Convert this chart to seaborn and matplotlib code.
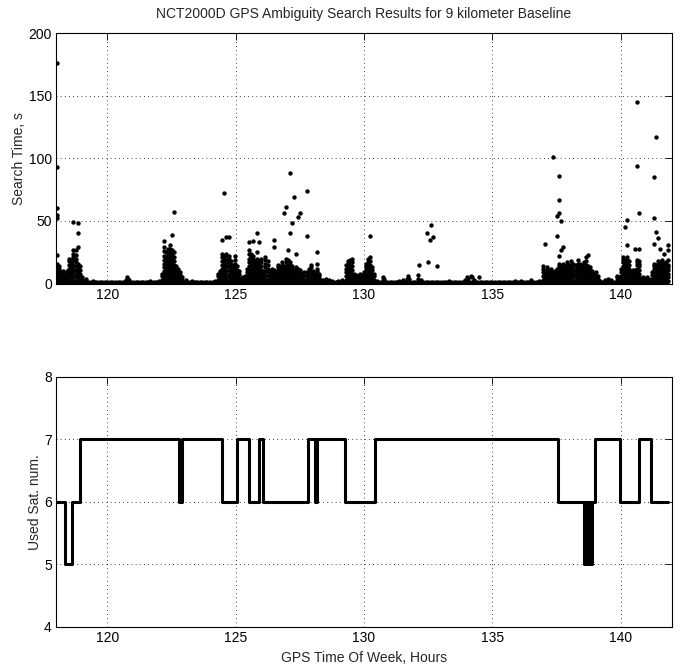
import pandas as pd
import matplotlib
matplotlib.use('Agg')
import matplotlib.pyplot as plt
import seaborn as sns

# --- Data ---
TITLE = 'NCT2000D GPS Ambiguity Search Results for 9 kilometer Baseline'

# quiet floor of the search time (about 1 s) sampled every 0.1 h
floor_level = 1.0
floor_t = [
    118.0, 118.1, 118.2, 118.3, 118.4, 118.5, 118.6, 118.7, 118.8, 118.9,
    119.0, 119.1, 119.2, 119.3, 119.4, 119.5, 119.6, 119.7, 119.8, 119.9,
    120.0, 120.1, 120.2, 120.3, 120.4, 120.5, 120.6, 120.7, 120.8, 120.9,
    121.0, 121.1, 121.2, 121.3, 121.4, 121.5, 121.6, 121.7, 121.8, 121.9,
    122.0, 122.1, 122.2, 122.3, 122.4, 122.5, 122.6, 122.7, 122.8, 122.9,
    123.0, 123.1, 123.2, 123.3, 123.4, 123.5, 123.6, 123.7, 123.8, 123.9,
    124.0, 124.1, 124.2, 124.3, 124.4, 124.5, 124.6, 124.7, 124.8, 124.9,
    125.0, 125.1, 125.2, 125.3, 125.4, 125.5, 125.6, 125.7, 125.8, 125.9,
    126.0, 126.1, 126.2, 126.3, 126.4, 126.5, 126.6, 126.7, 126.8, 126.9,
    127.0, 127.1, 127.2, 127.3, 127.4, 127.5, 127.6, 127.7, 127.8, 127.9,
    128.0, 128.1, 128.2, 128.3, 128.4, 128.5, 128.6, 128.7, 128.8, 128.9,
    129.0, 129.1, 129.2, 129.3, 129.4, 129.5, 129.6, 129.7, 129.8, 129.9,
    130.0, 130.1, 130.2, 130.3, 130.4, 130.5, 130.6, 130.7, 130.8, 130.9,
    131.0, 131.1, 131.2, 131.3, 131.4, 131.5, 131.6, 131.7, 131.8, 131.9,
    132.0, 132.1, 132.2, 132.3, 132.4, 132.5, 132.6, 132.7, 132.8, 132.9,
    133.0, 133.1, 133.2, 133.3, 133.4, 133.5, 133.6, 133.7, 133.8, 133.9,
    134.0, 134.1, 134.2, 134.3, 134.4, 134.5, 134.6, 134.7, 134.8, 134.9,
    135.0, 135.1, 135.2, 135.3, 135.4, 135.5, 135.6, 135.7, 135.8, 135.9,
    136.0, 136.1, 136.2, 136.3, 136.4, 136.5, 136.6, 136.7, 136.8, 136.9,
    137.0, 137.1, 137.2, 137.3, 137.4, 137.5, 137.6, 137.7, 137.8, 137.9,
    138.0, 138.1, 138.2, 138.3, 138.4, 138.5, 138.6, 138.7, 138.8, 138.9,
    139.0, 139.1, 139.2, 139.3, 139.4, 139.5, 139.6, 139.7, 139.8, 139.9,
    140.0, 140.1, 140.2, 140.3, 140.4, 140.5, 140.6, 140.7, 140.8, 140.9,
    141.0, 141.1, 141.2, 141.3, 141.4, 141.5, 141.6, 141.7, 141.8,
]

# bursts: column times (h) and the search times (s) seen in each column
burst_a_t = [118.04, 118.12, 118.20, 118.28, 118.36, 118.44, 118.52,
             118.60, 118.68, 118.76, 118.84, 118.92, 119.00]
burst_a_s = [[1, 3, 6, 9, 12, 14, 16, 23, 52, 55, 60, 93, 176],
             [2, 4, 7, 10, 12, 14], [1, 3, 6, 9], [2, 5, 8, 10], [1, 3, 6, 8],
             [2, 4, 7, 10], [1, 3, 6, 9, 12, 15, 18, 20],
             [2, 5, 8, 11, 13, 16, 19],
             [1, 3, 6, 9, 12, 15, 18, 21, 24, 27, 49],
             [2, 5, 8, 11, 14, 17, 20, 23, 27],
             [1, 3, 6, 9, 12, 14, 16, 29, 40, 48],
             [2, 5, 8, 11, 14], [1, 3, 5]]

burst_b_t = [122.12, 122.20, 122.28, 122.36, 122.44, 122.52, 122.60,
             122.68, 122.76, 122.84, 122.92]
burst_b_s = [[1, 3, 6, 8], [2, 4, 7, 10, 13, 16, 19, 22, 26, 29, 34],
             [1, 3, 6, 9, 12, 15, 18, 21, 25],
             [2, 5, 8, 11, 14, 17, 20, 24, 28],
             [1, 4, 7, 10, 13, 16, 19, 22, 25, 28, 31],
             [2, 5, 8, 11, 14, 17, 20, 23, 27, 39],
             [1, 3, 6, 9, 12, 15, 18, 21, 25, 57],
             [2, 5, 8, 11, 14], [1, 3, 6, 9, 12], [2, 4, 7, 9], [1, 3, 5]]

burst_c_t = [124.32, 124.40, 124.48, 124.56, 124.64, 124.72, 124.80,
             124.88, 124.96, 125.04, 125.12, 125.20]
burst_c_s = [[1, 3, 6, 8], [2, 4, 7, 10],
             [1, 3, 6, 9, 12, 15, 18, 21, 24, 35],
             [2, 5, 8, 11, 14, 17, 20, 22, 72],
             [1, 4, 7, 10, 13, 16, 19, 22, 24, 37],
             [2, 5, 8, 11, 14, 17, 20, 22, 37],
             [1, 3, 6, 9, 12, 15, 18], [2, 5, 8, 11, 13, 15],
             [1, 4, 7, 10, 13, 16, 19, 22], [2, 5, 8, 11, 14],
             [1, 3, 6, 8, 10], [2, 4]]

burst_d_t = [125.28, 125.36, 125.44, 125.52, 125.60, 125.68, 125.76, 125.84,
             125.92, 126.00, 126.08, 126.16, 126.24, 126.32, 126.40, 126.48,
             126.56, 126.64, 126.72, 126.80, 126.88, 126.96, 127.04, 127.12,
             127.20, 127.28, 127.36, 127.44, 127.52, 127.60, 127.68, 127.76,
             127.84, 127.92, 128.00, 128.08, 128.16, 128.24, 128.32]
burst_d_s = [[1, 3, 5], [2, 4, 6], [1, 3, 6, 9, 12],
             [2, 5, 8, 11, 14, 17, 20, 24, 27, 33],
             [1, 3, 6, 9, 12, 15, 18, 21, 24],
             [2, 5, 8, 11, 14, 17, 20, 22, 34],
             [1, 4, 7, 10, 13, 16, 18],
             [2, 5, 8, 11, 14, 17, 20, 25, 40],
             [1, 3, 6, 9, 12, 15, 18, 33],
             [2, 5, 8, 11, 14, 17, 20], [1, 3, 6, 8, 10],
             [2, 4, 7, 10, 13, 16, 19, 21], [1, 3, 6, 9, 12, 15, 18],
             [2, 5, 8, 10], [1, 3, 6, 9, 12], [2, 4, 7, 9, 11, 29, 35],
             [1, 3, 6, 9], [2, 5, 8, 11, 13, 15], [1, 3, 6, 9, 11, 13],
             [2, 4, 7, 10, 13, 15, 17], [1, 3, 6, 9, 12, 14, 56],
             [2, 5, 8, 11, 14, 17, 20, 61], [1, 3, 6, 9, 12, 15, 19, 27],
             [2, 4, 7, 10, 13, 15, 17, 40, 88], [1, 3, 6, 9, 12, 14, 48],
             [2, 5, 8, 11, 69], [1, 3, 6, 9, 11, 13, 24],
             [2, 4, 7, 10, 12, 53], [1, 3, 6, 9, 11, 56], [2, 5, 8],
             [1, 3, 6, 9], [2, 4, 7, 9, 38, 74], [1, 3, 6, 9, 12],
             [2, 4, 7, 10, 13, 15], [1, 3, 6, 8, 10], [2, 4, 6, 8],
             [1, 3, 5, 7, 10, 12, 16, 25], [2, 4, 6, 8], [1, 3]]

burst_e_t = [129.28, 129.36, 129.44, 129.52, 129.60, 129.68, 129.76, 129.84,
             129.92, 130.00, 130.08, 130.16, 130.24, 130.32, 130.40]
burst_e_s = [[1, 3, 6, 9, 12, 15], [2, 5, 8, 11, 14, 16, 18],
             [1, 3, 6, 9, 12, 14, 16, 19], [2, 5, 8, 11, 14, 17, 20],
             [1, 3, 6, 8], [2, 4, 7], [1, 3, 6], [2, 5, 8], [1, 3, 5, 7],
             [2, 4, 7, 9], [1, 3, 6, 9, 12, 14, 16],
             [2, 5, 8, 11, 14, 17, 20], [1, 3, 6, 9, 12, 15, 18, 21, 38],
             [2, 5, 8, 11, 13], [1, 3, 6, 8]]

burst_g_t = [136.96, 137.04, 137.12, 137.20, 137.28, 137.36, 137.44, 137.52,
             137.60, 137.68, 137.76, 137.84, 137.92, 138.00, 138.08, 138.16,
             138.24, 138.32, 138.40, 138.48, 138.56, 138.64, 138.72, 138.80,
             138.88, 138.96, 139.04, 139.12, 139.20, 139.40, 139.52, 139.64,
             139.84, 139.92, 140.00, 140.08, 140.16, 140.24, 140.32, 140.40,
             140.48, 140.56, 140.64, 140.72, 140.80, 140.88, 140.96, 141.04,
             141.12, 141.20, 141.28, 141.36, 141.44, 141.52, 141.60, 141.68,
             141.76, 141.84]
burst_g_s = [[1, 3, 6, 9, 12, 14], [2, 4, 7, 10, 32], [1, 3, 6, 9, 11, 13],
             [2, 5, 8, 11], [1, 3, 6, 9, 12], [2, 4, 7, 9, 101],
             [1, 3, 6, 8, 10], [2, 5, 8, 10, 12, 38, 54],
             [1, 3, 6, 9, 12, 14, 16, 22, 56, 67, 86],
             [2, 5, 8, 11, 13, 27, 50], [1, 3, 6, 9, 12, 14, 16, 29],
             [2, 5, 8, 11, 14], [1, 3, 6, 9, 12, 15, 17],
             [2, 4, 7, 10, 13, 15], [1, 3, 6, 9, 12, 15, 18],
             [2, 5, 8, 11, 14, 16], [1, 3, 6, 9, 12, 15],
             [2, 4, 7, 10, 13, 16, 19], [1, 3, 6, 9, 12, 14, 16],
             [2, 5, 8, 11, 13, 15], [1, 3, 6, 9, 12, 14, 17],
             [2, 4, 7, 10, 13, 15, 18, 21], [1, 3, 6, 9, 12, 14, 23],
             [2, 5, 8, 11, 13], [1, 3, 6, 8, 10], [2, 4, 6, 8], [1, 3, 6, 9],
             [2, 4, 6], [2], [3], [2, 4], [3], [1, 3, 5, 6], [2, 4, 5],
             [1, 3, 6, 9, 12], [2, 5, 8, 11, 14, 17, 19, 21],
             [1, 3, 6, 9, 12, 15, 18, 20, 45],
             [2, 4, 7, 10, 13, 16, 19, 21, 31, 51],
             [1, 3, 6, 9, 12, 15, 18], [2, 4, 7, 10], [1, 3, 6, 9, 11],
             [2, 5, 8, 11, 28], [1, 3, 6, 9, 12, 15, 17, 19, 94, 145],
             [2, 5, 8, 11, 14, 16, 18, 28, 56], [1, 3, 4], [2, 3, 5],
             [1, 3, 4], [2, 3, 5], [1, 3, 4], [2, 4, 7, 9],
             [1, 3, 6, 9, 12, 14, 16, 32, 52, 85],
             [2, 5, 8, 11, 13, 15, 41, 117],
             [1, 3, 6, 9, 12, 14, 16, 18, 36], [2, 5, 8, 11, 14, 17, 28],
             [1, 3, 6, 9, 12, 15, 17, 19], [2, 4, 7, 10, 13, 16, 24],
             [1, 3, 6, 9, 12, 15, 17], [2, 5, 8, 11, 13, 15, 19, 27, 31]]

# small isolated bumps between the bursts
minor_t = [119.08, 119.15, 119.45, 120.72, 120.76, 120.80, 120.84, 121.65,
           122.00, 123.05, 123.30, 124.20, 128.40, 128.50, 128.62, 128.75,
           129.00, 129.15, 130.52, 130.72, 130.74, 130.76, 131.35, 131.50,
           131.68, 131.72, 131.76, 132.10, 132.12, 132.16, 132.20, 132.45,
           132.50, 132.58, 132.60, 132.68, 132.84, 133.30, 133.95, 134.00,
           134.05, 134.15, 134.22, 134.30, 134.48, 135.90, 136.10, 136.50,
           136.80]
minor_s = [2, 4, 2, 3, 5, 4, 3, 2,
           2, 3, 2, 2, 3, 4, 3, 2,
           2, 3, 2, 3, 5, 4, 2, 3,
           4, 6, 4, 4, 7, 15, 3, 40,
           17, 35, 47, 37, 14, 2, 3, 5,
           4, 6, 5, 3, 5, 2, 2, 3,
           2]

# number of satellites used: change times (h) and new counts
sat_t = [118.00, 118.35, 118.61, 118.93, 122.80, 122.92, 124.48, 125.04,
         125.53, 125.91, 126.08, 127.80, 128.10, 128.17, 129.27, 130.41,
         137.54, 138.56, 138.60, 138.62, 138.66, 138.68, 138.72, 138.74,
         138.78, 138.80, 138.84, 138.86, 138.88, 139.01, 139.98, 140.73,
         141.18, 141.84]
sat_n = [6, 5, 6, 7, 6, 7, 6, 7,
         6, 7, 6, 7, 6, 7, 6, 7,
         6, 5, 6, 5, 6, 5, 6, 5,
         6, 5, 6, 5, 6, 7, 6, 7,
         6, 6]


def expand(times, columns):
    rows = []
    for t, vals in zip(times, columns):
        for v in vals:
            rows.append((t, v))
    return rows


rows = [(t, floor_level) for t in floor_t]
for bt, bs in [(burst_a_t, burst_a_s), (burst_b_t, burst_b_s),
               (burst_c_t, burst_c_s), (burst_d_t, burst_d_s),
               (burst_e_t, burst_e_s), (burst_g_t, burst_g_s)]:
    rows += expand(bt, bs)
rows += list(zip(minor_t, minor_s))
search_df = pd.DataFrame(rows, columns=['tow', 'search'])
sat_df = pd.DataFrame({'tow': sat_t, 'nsat': sat_n})

# --- Plot ---
sns.set_style('white')
plt.rcParams['font.family'] = ['Liberation Sans', 'DejaVu Sans']
plt.rcParams['font.size'] = 10

fig = plt.figure(figsize=(6.8, 6.72), dpi=100)
ax1 = fig.add_axes([0.0824, 0.578, 0.9059, 0.3728])
ax2 = fig.add_axes([0.0824, 0.0674, 0.9059, 0.372])

sns.scatterplot(data=search_df, x='tow', y='search', ax=ax1, color='black',
                s=10, linewidth=0, legend=False)
sns.lineplot(data=sat_df, x='tow', y='nsat', ax=ax2, color='black',
             linewidth=2.2, drawstyle='steps-post', estimator=None, sort=False)

for ax in (ax1, ax2):
    ax.set_xlim(118, 142)
    ax.set_xticks([120, 125, 130, 135, 140])
    ax.grid(True, color='black', linestyle=(0, (1, 4)), linewidth=0.6)
    ax.set_axisbelow(True)
    ax.tick_params(direction='in', top=True, right=True, length=5, width=0.6,
                   labelsize=10, pad=3, colors='black')
    for sp in ax.spines.values():
        sp.set_visible(True)
        sp.set_color('black')
        sp.set_linewidth(0.8)

ax1.set_ylim(0, 200)
ax1.set_yticks([0, 50, 100, 150, 200])
ax1.set_xlabel('')
ax1.set_ylabel('Search Time, s', fontsize=10, labelpad=1.5)
ax1.set_title(TITLE, fontsize=10, pad=10.5)

ax2.set_ylim(4, 8)
ax2.set_yticks([4, 5, 6, 7, 8])
ax2.set_xlabel('GPS Time Of Week, Hours', fontsize=10, labelpad=4.5)
ax2.set_ylabel('Used Sat. num.', fontsize=10, labelpad=1.5)

fig.savefig('out.png', dpi=100, facecolor='white')
